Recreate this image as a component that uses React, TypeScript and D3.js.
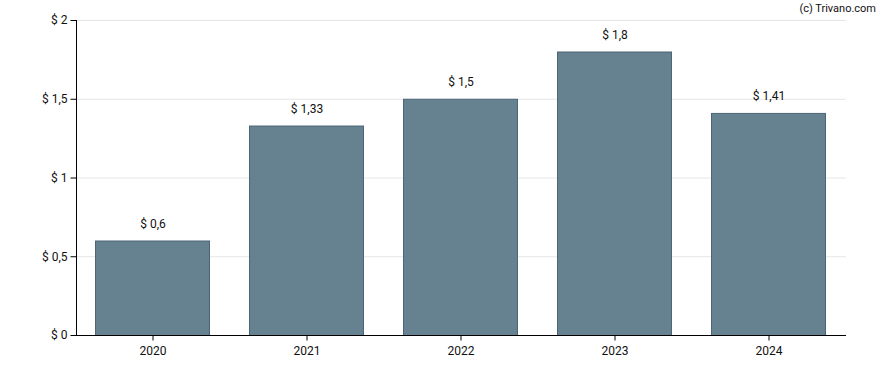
import React, { useEffect, useRef } from "react";
import * as d3 from "d3";

const years = ["2020", "2021", "2022", "2023", "2024"];
const dividends = [0.6, 1.33, 1.5, 1.8, 1.41];
const yTicks = [0, 0.5, 1, 1.5, 2];

const fmt = (v: number) => `$ ${String(v).replace(".", ",")}`;

const App: React.FC = () => {
  const ref = useRef<SVGSVGElement | null>(null);

  useEffect(() => {
    if (!ref.current) return;
    const width = 888;
    const height = 370;
    const left = 76;
    const right = 846;
    const top = 20;
    const bottom = 335;

    const svg = d3.select(ref.current);
    svg.selectAll("*").remove();
    svg.attr("width", width).attr("height", height);

    const x = d3.scaleBand<string>().domain(years).range([left - 1, right - 1]).paddingInner(0.26).paddingOuter(0.13);
    const y = d3.scaleLinear().domain([0, 2]).range([bottom, top]);

    // gridlines
    svg.append("g")
      .selectAll("line")
      .data(yTicks.filter(t => t > 0))
      .join("line")
      .attr("x1", left)
      .attr("x2", right)
      .attr("y1", d => y(d) + 0.5)
      .attr("y2", d => y(d) + 0.5)
      .attr("stroke", "#e6e6e6")
      .attr("stroke-width", 1);

    // bars
    svg.append("g")
      .selectAll("rect")
      .data(dividends)
      .join("rect")
      .attr("x", (_, i) => x(years[i])! + 0.5)
      .attr("y", d => y(d) + 0.5)
      .attr("width", x.bandwidth())
      .attr("height", d => bottom - y(d))
      .attr("fill", "#66818f")
      .attr("stroke", "#4b6577")
      .attr("stroke-width", 1);

    // value labels
    svg.append("g")
      .selectAll("text")
      .data(dividends)
      .join("text")
      .attr("x", (_, i) => x(years[i])! + x.bandwidth() / 2 + 1)
      .attr("y", d => y(d) - 13)
      .attr("text-anchor", "middle")
      .attr("font-family", "Roboto, sans-serif")
      .attr("font-size", "12px")
      .attr("fill", "#111")
      .text(d => fmt(d));

    // y axis
    const yAxis = svg.append("g")
      .attr("transform", `translate(${left + 0.5},0)`)
      .call(d3.axisLeft(y).tickValues(yTicks).tickSize(6).tickPadding(3).tickFormat(d => fmt(d as number)));
    yAxis.selectAll("path,line").attr("stroke", "#000");
    yAxis.selectAll("text")
      .attr("font-family", "Roboto, sans-serif")
      .attr("font-size", "12px")
      .attr("fill", "#111");
    yAxis.select(".domain").attr("d", `M0,${top}V${bottom + 0.5}`);

    // x axis
    const xAxis = svg.append("g")
      .attr("transform", `translate(1,${bottom + 0.5})`)
      .call(d3.axisBottom(x).tickSize(5).tickPadding(6).tickSizeOuter(0));
    xAxis.selectAll("path,line").attr("stroke", "#000");
    xAxis.select(".domain").attr("d", `M${left - 1},0H${right - 1}`);
    xAxis.selectAll("text")
      .attr("font-family", "Roboto, sans-serif")
      .attr("font-size", "12px")
      .attr("fill", "#111");

    // credit
    svg.append("text")
      .attr("x", 876)
      .attr("y", 12)
      .attr("text-anchor", "end")
      .attr("font-family", "Roboto, sans-serif")
      .attr("font-size", "11px")
      .attr("fill", "#111")
      .text("(c) Trivano.com");
  }, []);

  return (
    <div style={{ position: "absolute", left: 0, top: 0 }}>
      <svg ref={ref} style={{ display: "block" }} />
    </div>
  );
};

export default App;
